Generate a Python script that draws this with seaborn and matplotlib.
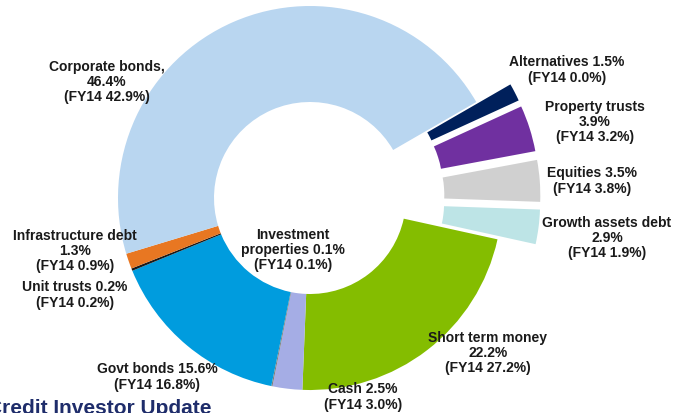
import matplotlib
matplotlib.use("Agg")
import matplotlib.pyplot as plt
import seaborn as sns

# asset allocation, clockwise from the exploded group
categories = ['Alternatives', 'Property trusts', 'Equities', 'Growth assets debt',
              'Short term money', 'Cash', 'Investment properties', 'Govt bonds',
              'Unit trusts', 'Infrastructure debt', 'Corporate bonds']
share_fy15 = [1.5, 3.9, 3.5, 2.9, 22.2, 2.5, 0.1, 15.6, 0.2, 1.3, 46.4]
share_fy14 = [0.0, 3.2, 3.8, 1.9, 27.2, 3.0, 0.1, 16.8, 0.2, 0.9, 42.9]
colors = ['#00205B', '#7030A0', '#D0D0D0', '#BDE4E6', '#84BD00', '#A5ADE5',
          '#7F7F7F', '#009CDE', '#1A1A1A', '#E87722', '#B9D6F0']
explode = [0.2, 0.2, 0.2, 0.2, 0, 0, 0, 0, 0, 0, 0]

label_text = [
    'Alternatives {a}%\n(FY14 {b}%)',
    'Property trusts\n{a}%\n(FY14 {b}%)',
    'Equities {a}%\n(FY14 {b}%)',
    'Growth assets debt\n{a}%\n(FY14 {b}%)',
    'Short term money\n{a}%\n(FY14 {b}%)',
    'Cash {a}%\n(FY14 {b}%)',
    'Investment\nproperties {a}%\n(FY14 {b}%)',
    'Govt bonds {a}%\n(FY14 {b}%)',
    'Unit trusts {a}%\n(FY14 {b}%)',
    'Infrastructure debt\n{a}%\n(FY14 {b}%)',
    'Corporate bonds,\n{a}%\n(FY14 {b}%)',
]
# label centres in pixels (x from left, y from top)
label_px = [(567, 70), (595, 122), (592, 181), (607, 238), (488, 353), (363, 397),
            (293, 250), (157, 377), (75, 295), (75, 251), (107, 82)]

sns.set_style('white')
plt.rcParams['font.family'] = ['Liberation Sans', 'DejaVu Sans']

W, H = 677, 413
cx, cy, R = 310, 198, 192

fig = plt.figure(figsize=(W / 100, H / 100), dpi=100)
ax = fig.add_axes([0, 0, 1, 1])
ax.pie(share_fy15, colors=colors, explode=explode, startangle=30, counterclock=False,
       radius=1, wedgeprops=dict(width=0.5, linewidth=0))
ax.set_xlim(-cx / R, (W - cx) / R)
ax.set_ylim(-(H - cy) / R, cy / R)
ax.set_aspect('auto')
ax.axis('off')

for txt, a, b, (px, py) in zip(label_text, share_fy15, share_fy14, label_px):
    ax.text((px - cx) / R, (cy - py) / R, txt.format(a=a, b=b), ha='center', va='center',
            fontsize=10, fontweight='bold', color='#1a1a1a', linespacing=1.12)

# footer title, partly cropped at the left and bottom edge as in the source slide
fig.text(-13 / W, -5 / H, 'Credit Investor Update', ha='left', va='bottom',
         fontsize=15, fontweight='bold', color='#1F2D6B')

fig.savefig('out.png', dpi=100)
